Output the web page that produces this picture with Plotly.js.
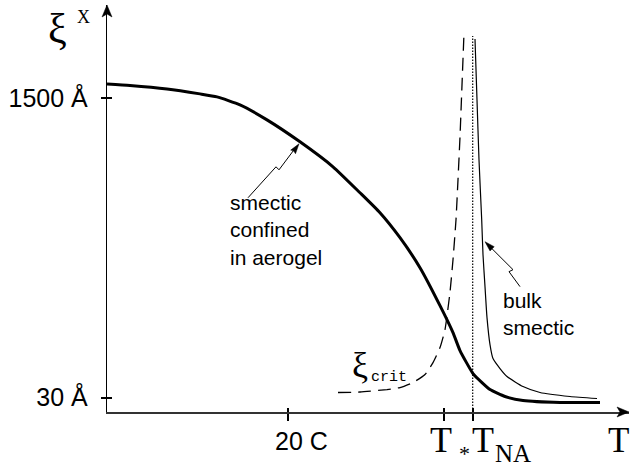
<!DOCTYPE html>
<html><head><meta charset="utf-8">
<script src="https://cdn.plot.ly/plotly-3.0.1.min.js"></script>
<style>html,body{margin:0;padding:0;background:#fff}</style>
</head><body><div id="chart" style="width:631px;height:470px"></div>
<script>
// Schematic units: x = temperature axis position, y = correlation length axis position
const confinedX = [0, 23, 60, 93, 110, 133, 160, 193, 226, 253, 273, 293, 313, 333, 346, 353, 366, 375, 383, 398, 416, 453, 493];
const confinedY = [328.5, 327, 323.5, 318.5, 315.5, 307.5, 292.5, 270.5, 245.5, 219.5, 199.5, 174.5, 144.5, 106.5, 79.5, 61.5, 38.5, 29.5, 22.5, 15.5, 11.5, 9.5, 9.5];

const bulkX = [368, 370, 372, 374.7, 376, 378, 380, 383, 386, 393, 400, 416, 433, 463, 490];
const bulkY = [373.5, 312.5, 252.5, 192.5, 157.5, 125.5, 94.5, 67.5, 53.5, 43.5, 35.5, 25.5, 19.5, 15.5, 13.5];

const critX = [231, 253, 280, 293, 306, 318, 326, 333, 338, 343, 346, 349, 351, 353, 355, 357];
const critY = [19.5, 20, 22.5, 24.5, 29.5, 37.5, 49.5, 64.5, 82.5, 120, 152.5, 192.5, 232.5, 275.5, 327.5, 379.5];

const tnaX = [365.7, 365.7];
const tnaY = [0, 376.5];

const xTickVals = [181, 337, 365.7];
const xTickMain = ['20 C', 'T', 'T'];
const xTickSub = ['', '*', 'NA'];
const yTickVals = [14.5, 314.5];
const yTickLabels = ['30 Å', '1500 Å'];

const SANS = 'Liberation Sans, Arial, sans-serif';
const SERIF = 'Liberation Serif, Times New Roman, serif';
const MONO = 'Liberation Mono, Courier New, monospace';
const XR = 522, YR = 407.5;
const BLACK = '#000';

const traces = [
  {x: confinedX, y: confinedY, mode: 'lines', line: {color: BLACK, width: 3, shape: 'spline', smoothing: 0.5}},
  {x: bulkX, y: bulkY, mode: 'lines', line: {color: BLACK, width: 1.2, shape: 'spline', smoothing: 0.5}},
  {x: critX, y: critY, mode: 'lines', line: {color: BLACK, width: 1.3, dash: '13px,7px', shape: 'spline', smoothing: 0.5}},
  {x: tnaX, y: tnaY, mode: 'lines', line: {color: BLACK, width: 1.2, dash: '1.5px,1.5px'}},
  {x: [xTickVals[0]], y: [0], xaxis: 'x2', yaxis: 'y2', mode: 'markers', marker: {opacity: 0}}
];

// label placement (pixel shifts from the tick position)
const mainStyle = [
  {xshift: 13, y: -29, font: {family: SANS, size: 25, color: BLACK}},
  {xshift: -3, y: -28, font: {family: SERIF, size: 36, color: BLACK}},
  {xshift: 10, y: -28, font: {family: SERIF, size: 36, color: BLACK}}
];
const subStyle = [
  null,
  {xshift: 20, y: -42, font: {family: SERIF, size: 22, color: BLACK}},
  {xshift: 40, y: -41.8, font: {family: SERIF, size: 25, color: BLACK}}
];

const annotations = [];
xTickVals.forEach((v, i) => {
  const m = mainStyle[i];
  annotations.push({x: v, y: m.y / YR, xref: 'x', yref: 'paper', text: xTickMain[i], showarrow: false,
                    xanchor: 'center', yanchor: 'middle', xshift: m.xshift, font: m.font});
  if (xTickSub[i]) {
    const s = subStyle[i];
    annotations.push({x: v, y: s.y / YR, xref: 'x', yref: 'paper', text: xTickSub[i], showarrow: false,
                      xanchor: 'center', yanchor: 'middle', xshift: s.xshift, font: s.font});
  }
});
annotations.push(
  {x: 511, y: -28.2 / YR, xref: 'x', yref: 'paper', text: 'T', showarrow: false, xanchor: 'center', yanchor: 'middle', font: {family: SERIF, size: 35, color: BLACK}},
  {x: -50 / XR, y: 383.5 / YR, xref: 'paper', yref: 'paper', text: 'ξ', showarrow: false, xanchor: 'center', yanchor: 'middle', font: {family: SERIF, size: 42, color: BLACK}},
  {x: -24 / XR, y: 395 / YR, xref: 'paper', yref: 'paper', text: 'X', showarrow: false, xanchor: 'center', yanchor: 'middle', font: {family: SERIF, size: 18, color: BLACK}},
  {x: 253, y: 47, xref: 'x', yref: 'y', text: 'ξ', showarrow: false, xanchor: 'center', yanchor: 'middle', font: {family: SERIF, size: 36, color: BLACK}},
  {x: 282, y: 34.5, xref: 'x', yref: 'y', text: 'crit', showarrow: false, xanchor: 'center', yanchor: 'middle', font: {family: MONO, size: 15, color: BLACK}},
  {x: 121, y: 182.5, xref: 'x', yref: 'y', text: 'smectic<br>confined<br>in aerogel', showarrow: false, xanchor: 'left', yanchor: 'middle', align: 'left', font: {family: SANS, size: 21, color: BLACK}},
  {x: 394, y: 98.5, xref: 'x', yref: 'y', text: 'bulk<br>smectic', showarrow: false, xanchor: 'left', yanchor: 'middle', align: 'left', font: {family: SANS, size: 21, color: BLACK}}
);

// decoration: axis arrowheads (paper units) and pointer arrows (plot units)
const px = v => v / XR, py = v => v / YR;
const shapes = [
  {type: 'path', xref: 'paper', yref: 'paper', layer: 'above',
   path: `M0,1 L${-px(5)},${1 - py(12)} L0,${1 - py(9)} L${px(5)},${1 - py(12)} Z`, line: {color: BLACK, width: 0.5}, fillcolor: BLACK},
  {type: 'path', xref: 'paper', yref: 'paper', layer: 'above',
   path: `M1,0 L${1 - px(12)},${py(5)} L${1 - px(9)},0 L${1 - px(12)},${-py(5)} Z`, line: {color: BLACK, width: 0.5}, fillcolor: BLACK},
  {type: 'path', xref: 'x', yref: 'y', path: 'M141,214.5 L169,245.5 L172,242.5 L187,262.5', line: {color: BLACK, width: 1}},
  {type: 'path', xref: 'x', yref: 'y', path: 'M192,268.5 L183.7,262.2 L186.8,261.2 L188.5,258.6 Z', line: {color: BLACK, width: 0.5}, fillcolor: BLACK},
  {type: 'path', xref: 'x', yref: 'y', path: 'M413,125.5 L402,140.5 L406,142.5 L385,163.5', line: {color: BLACK, width: 1}},
  {type: 'path', xref: 'x', yref: 'y', path: 'M378,170.5 L387.2,165.5 L385.8,164 L383,161.3 Z', line: {color: BLACK, width: 0.5}, fillcolor: BLACK}
];

const layout = {
  width: 631, height: 470,
  margin: {l: 107, r: 2, t: 5, b: 57.5, pad: 0},
  paper_bgcolor: '#fff', plot_bgcolor: '#fff',
  font: {color: BLACK, family: SANS},
  showlegend: false, hovermode: false,
  xaxis: {range: [0, XR], showgrid: false, zeroline: false, showline: true, linecolor: '#333', linewidth: 1.5,
          ticks: 'outside', ticklen: 7, tickwidth: 2, tickcolor: BLACK, tickmode: 'array', tickvals: xTickVals, showticklabels: false, fixedrange: true},
  xaxis2: {range: [0, XR], overlaying: 'x', anchor: 'y', side: 'bottom', showgrid: false, zeroline: false, showline: false,
          ticks: 'inside', ticklen: 4.5, tickwidth: 2, tickcolor: BLACK, tickmode: 'array', tickvals: xTickVals, showticklabels: false, fixedrange: true},
  yaxis: {range: [0, YR], showgrid: false, zeroline: false, showline: true, linecolor: BLACK, linewidth: 1.2,
          ticks: 'outside', ticklen: 5, tickwidth: 2, tickcolor: BLACK, tickmode: 'array', tickvals: yTickVals, ticktext: yTickLabels,
          tickfont: {family: SANS, size: 25, color: BLACK}, ticklabelstandoff: 8, fixedrange: true},
  yaxis2: {range: [0, YR], overlaying: 'y', anchor: 'x', side: 'left', showgrid: false, zeroline: false, showline: false,
          ticks: 'inside', ticklen: 5, tickwidth: 2, tickcolor: BLACK, tickmode: 'array', tickvals: yTickVals, showticklabels: false, fixedrange: true},
  annotations: annotations,
  shapes: shapes
};

Plotly.newPlot('chart', traces, layout, {staticPlot: true, displayModeBar: false});
</script>
</body></html>
